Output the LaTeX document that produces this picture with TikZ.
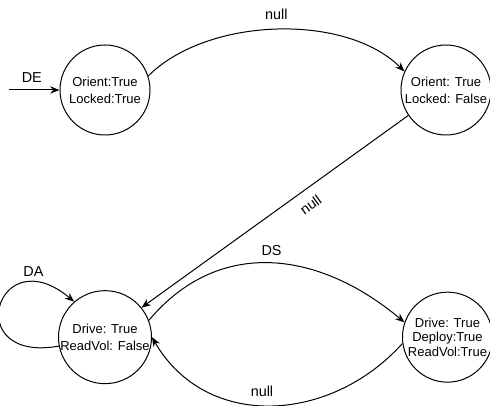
\documentclass[tikz,border=0pt]{standalone}
\usepackage{fontspec}
\setmainfont{Liberation Sans}
\usetikzlibrary{arrows.meta, positioning}

\begin{document}
\begin{tikzpicture}[
  font=\fontsize{10.8}{13}\selectfont,
  node distance=116pt and 187.5pt,
  state/.style={draw, circle, line width=0.75pt, minimum size=67.5pt, inner sep=0pt, align=center, font=\fontsize{9.75}{12.75}\selectfont},
  arr/.style={-{Stealth[length=7pt, width=5.5pt]}, line width=0.75pt}
]
\useasboundingbox (-78.75pt, 67.5pt) rectangle (288.75pt, -237pt);
\node[state] (orient) {Orient:True\\Locked:True};
\node[state, right=of orient] (unlock) {Orient: True\\Locked: False};
\node[state, below=of orient] (drive) {Drive: True\\ReadVol: False};
\node[state, right=of drive, font=\fontsize{9.75}{11}\selectfont] (deploy) {Drive: True\\Deploy:True\\ReadVol:True};
\coordinate[left=37.5pt of orient.west] (init);

\draw[arr] (init) -- node[above=2pt, xshift=-2pt] {DE} (orient);
\draw[arr] (orient.18) to[out=45, in=135, looseness=0.83] node[above=4pt] {null} (unlock.156);
\draw[arr] (unlock.214) -- node[sloped, below=4pt, pos=0.4] {null} (drive.39);
\draw[arr] (drive.21) to[out=50, in=140, looseness=1.1] node[above=2pt] {DS} (deploy.161);
\draw[arr] (deploy.188) to[out=-132, in=-60, looseness=1.1] node[above=3pt, pos=0.53] {null} (drive.0);
\draw[arr] (drive.191) to[out=190, in=140, looseness=5.5] node[pos=0.8, above=1pt] {DA} (drive.131);
\end{tikzpicture}
\end{document}
